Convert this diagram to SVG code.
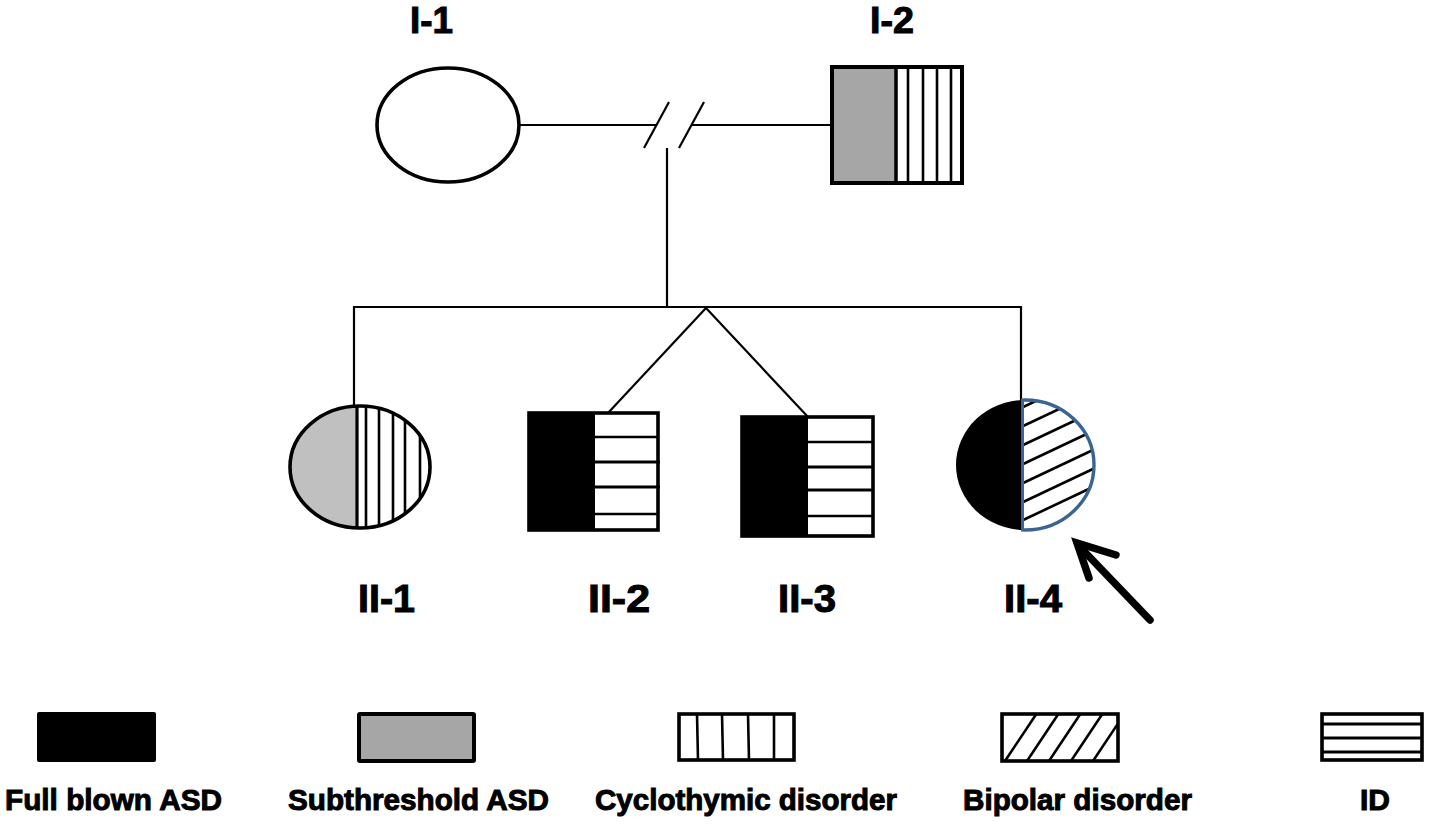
<svg xmlns="http://www.w3.org/2000/svg" width="1430" height="824" viewBox="0 0 1430 824">
<style>
.ln{stroke:#000;stroke-width:2.2;fill:none}
.ol{stroke:#000;stroke-width:3.6;fill:none}
.st{stroke:#000;stroke-width:2.6;fill:none}
.lb{font-family:"Liberation Sans",Arial,sans-serif;font-weight:700;fill:#000;stroke:#000;stroke-width:1}
.t1{font-size:36px}
.t2{font-size:38px}
.t3{font-size:30px}
</style>
<defs>
<clipPath id="c21"><ellipse cx="360" cy="467" rx="70" ry="61"/></clipPath>
<clipPath id="c24"><path d="M1021 380 H1110 V545 H1021 Z"/></clipPath>
<clipPath id="c24e"><ellipse cx="1025" cy="465" rx="69" ry="65"/></clipPath>
<clipPath id="cbp"><rect x="1002" y="713" width="116" height="48"/></clipPath>
</defs>
<rect width="1430" height="824" fill="#fff"/>

<g id="connectors">
<line class="ln" x1="519" y1="125" x2="656" y2="125"/>
<line class="ln" x1="691" y1="125" x2="832" y2="125"/>
<line class="ln" x1="644" y1="148" x2="669" y2="102"/>
<line class="ln" x1="679" y1="148" x2="704" y2="102"/>
<line class="ln" x1="667" y1="148" x2="667" y2="308"/>
<line class="ln" x1="354" y1="307" x2="1021" y2="307"/>
<line class="ln" x1="354" y1="306" x2="354" y2="408"/>
<line class="ln" x1="1021" y1="306" x2="1021" y2="401"/>
<line class="ln" x1="706" y1="308" x2="608" y2="413"/>
<line class="ln" x1="706" y1="308" x2="808" y2="417"/>
</g>

<g id="I-1">
<ellipse cx="448" cy="125" rx="71" ry="57" fill="#fff" class="ol"/>
<text class="lb t1" x="410" y="33" textLength="43" lengthAdjust="spacingAndGlyphs">I-1</text>
</g>

<g id="I-2">
<rect x="832" y="67" width="130" height="116" fill="#fff"/>
<rect x="832" y="67" width="64" height="116" fill="#a6a6a6"/>
<line class="st" x1="896" y1="67" x2="896" y2="183" style="stroke-width:3.5"/>
<line class="st" x1="908" y1="67" x2="908" y2="183"/>
<line class="st" x1="923" y1="67" x2="923" y2="183"/>
<line class="st" x1="937" y1="67" x2="937" y2="183"/>
<line class="st" x1="951" y1="67" x2="951" y2="183"/>
<rect x="832" y="67" width="130" height="116" class="ol" style="stroke-width:4"/>
<text class="lb t1" x="870" y="33" textLength="44" lengthAdjust="spacingAndGlyphs">I-2</text>
</g>

<g id="II-1">
<ellipse cx="360" cy="467" rx="70" ry="61" fill="#fff"/>
<rect x="280" y="400" width="77" height="140" fill="#c0c0c0" clip-path="url(#c21)"/>
<g clip-path="url(#c21)">
<line class="st" x1="357" y1="400" x2="357" y2="535" style="stroke-width:3.2"/>
<line class="st" x1="366" y1="400" x2="366" y2="535"/>
<line class="st" x1="379" y1="400" x2="379" y2="535"/>
<line class="st" x1="393" y1="400" x2="393" y2="535"/>
<line class="st" x1="405" y1="400" x2="405" y2="535"/>
<line class="st" x1="420" y1="400" x2="420" y2="535"/>
</g>
<ellipse cx="360" cy="467" rx="70" ry="61" class="ol"/>
<text class="lb t2" x="358" y="612" textLength="57" lengthAdjust="spacingAndGlyphs">II-1</text>
</g>

<g id="II-2">
<rect x="529" y="413" width="129" height="117" fill="#fff"/>
<rect x="529" y="413" width="66" height="117" fill="#000"/>
<line class="st" x1="595" y1="437" x2="658" y2="437"/>
<line class="st" x1="595" y1="462" x2="660" y2="462" style="stroke-width:3.2"/>
<line class="st" x1="595" y1="487" x2="660" y2="487" style="stroke-width:3.2"/>
<line class="st" x1="595" y1="514" x2="658" y2="514"/>
<rect x="529" y="413" width="129" height="117" class="ol"/>
<text class="lb t2" x="588" y="612" textLength="62" lengthAdjust="spacingAndGlyphs">II-2</text>
</g>

<g id="II-3">
<rect x="742" y="417" width="131" height="119" fill="#fff"/>
<rect x="742" y="417" width="66" height="119" fill="#000"/>
<line class="st" x1="808" y1="442" x2="873" y2="442"/>
<line class="st" x1="808" y1="467" x2="873" y2="467" style="stroke-width:3.2"/>
<line class="st" x1="808" y1="490" x2="873" y2="490" style="stroke-width:3.2"/>
<line class="st" x1="808" y1="516" x2="873" y2="516"/>
<rect x="742" y="417" width="131" height="119" class="ol"/>
<text class="lb t2" x="778" y="612" textLength="58" lengthAdjust="spacingAndGlyphs">II-3</text>
</g>

<g id="II-4">
<ellipse cx="1025" cy="465" rx="69" ry="65" fill="#000"/>
<g clip-path="url(#c24)">
<ellipse cx="1025" cy="465" rx="69" ry="65" fill="#fff"/>
<g clip-path="url(#c24e)">
<line class="st" x1="1021" y1="408" x2="1110" y2="366"/>
<line class="st" x1="1021" y1="427" x2="1110" y2="385"/>
<line class="st" x1="1021" y1="446" x2="1110" y2="404"/>
<line class="st" x1="1021" y1="465" x2="1110" y2="423"/>
<line class="st" x1="1021" y1="484" x2="1110" y2="442"/>
<line class="st" x1="1021" y1="503" x2="1110" y2="461"/>
<line class="st" x1="1021" y1="521" x2="1110" y2="479"/>
<line class="st" x1="1021" y1="540" x2="1110" y2="498"/>
</g>
<ellipse cx="1025" cy="465" rx="69" ry="65" fill="none" stroke="#3a6491" stroke-width="3.4"/>
<line x1="1022.5" y1="400" x2="1022.5" y2="530" stroke="#3a6491" stroke-width="3"/>
</g>
<text class="lb t2" x="1004" y="612" textLength="58" lengthAdjust="spacingAndGlyphs">II-4</text>
</g>

<g id="proband-arrow">
<line x1="1150" y1="620" x2="1079" y2="546" stroke="#000" stroke-width="7.5" stroke-linecap="round"/>
<polyline points="1089,578 1077,543 1116,555" fill="none" stroke="#000" stroke-width="7.5" stroke-linecap="round" stroke-linejoin="miter"/>
</g>

<g id="legend-full-blown">
<rect x="37" y="712" width="119" height="50" rx="2" fill="#000"/>
<text class="lb t3" x="5" y="810" textLength="217" lengthAdjust="spacingAndGlyphs">Full blown ASD</text>
</g>
<g id="legend-subthreshold">
<rect x="359" y="714" width="115" height="47" rx="1" fill="#a6a6a6" stroke="#000" stroke-width="4"/>
<text class="lb t3" x="288" y="810" textLength="261" lengthAdjust="spacingAndGlyphs">Subthreshold ASD</text>
</g>
<g id="legend-cyclothymic">
<rect x="679" y="714" width="115" height="46" fill="#fff" class="ol"/>
<line class="st" x1="697" y1="714" x2="698" y2="760"/>
<line class="st" x1="722" y1="714" x2="723" y2="760"/>
<line class="st" x1="748" y1="714" x2="749" y2="760"/>
<line class="st" x1="774" y1="714" x2="774" y2="760"/>
<text class="lb t3" x="595" y="810" textLength="302" lengthAdjust="spacingAndGlyphs">Cyclothymic disorder</text>
</g>
<g id="legend-bipolar">
<rect x="1002" y="714" width="116" height="47" fill="#fff"/>
<g clip-path="url(#cbp)">
<line class="st" x1="1005" y1="761" x2="1037" y2="713"/>
<line class="st" x1="1027" y1="761" x2="1059" y2="713"/>
<line class="st" x1="1049" y1="761" x2="1081" y2="713"/>
<line class="st" x1="1071" y1="761" x2="1103" y2="713"/>
<line class="st" x1="1093" y1="761" x2="1125" y2="713"/>
</g>
<rect x="1002" y="714" width="116" height="47" class="ol"/>
<text class="lb t3" x="963" y="810" textLength="229" lengthAdjust="spacingAndGlyphs">Bipolar disorder</text>
</g>
<g id="legend-id">
<rect x="1322" y="714" width="100" height="46" fill="#fff" class="ol"/>
<line class="st" x1="1322" y1="724" x2="1422" y2="724" style="stroke-width:3"/>
<line class="st" x1="1322" y1="738" x2="1422" y2="738" style="stroke-width:3.2"/>
<line class="st" x1="1322" y1="752" x2="1422" y2="752" style="stroke-width:3"/>
<text class="lb t3" x="1360" y="810" textLength="30" lengthAdjust="spacingAndGlyphs">ID</text>
</g>
</svg>
